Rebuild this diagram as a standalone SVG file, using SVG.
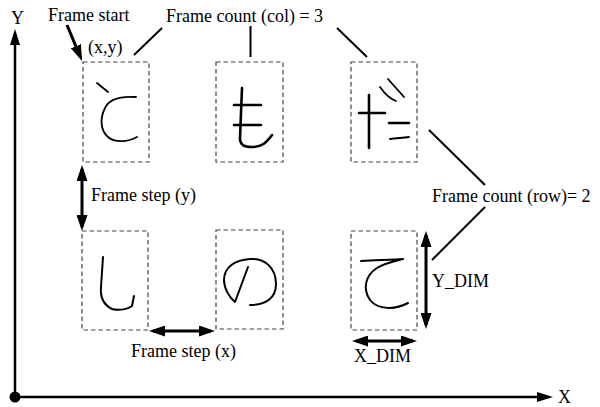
<svg xmlns="http://www.w3.org/2000/svg" width="600" height="407" viewBox="0 0 600 407">
<style>
  text { font-family: "Liberation Serif", "Times New Roman", serif; font-size: 18px; fill: #000; }
  .frame { fill: none; stroke: #444; stroke-width: 1.2; stroke-dasharray: 4.5 3; }
  .ink { fill: none; stroke: #000; stroke-linecap: round; stroke-linejoin: round; }
  .arr { stroke: #000; stroke-width: 3; fill: none; }
  .ax { stroke: #000; stroke-width: 2.5; fill: none; }
  .lead { stroke: #000; stroke-width: 2; fill: none; }
</style>
<defs>
  <marker id="ah" markerUnits="userSpaceOnUse" markerWidth="16" markerHeight="11" refX="12" refY="5.5" orient="auto-start-reverse" viewBox="0 0 16 11">
    <path d="M0,0 L16,5.5 L0,11 z" fill="#000"/>
  </marker>
  <marker id="axh" markerUnits="userSpaceOnUse" markerWidth="16" markerHeight="10" refX="12" refY="5" orient="auto-start-reverse" viewBox="0 0 16 10">
    <path d="M0,0 L16,5 L0,10 z" fill="#000"/>
  </marker>
</defs>

<g id="axes">
  <line class="ax" x1="15" y1="397" x2="15" y2="33" marker-end="url(#axh)"/>
  <line class="ax" x1="15" y1="397" x2="549" y2="397" marker-end="url(#axh)"/>
  <circle cx="15" cy="397" r="5.5" fill="#000"/>
  <text x="11" y="24">Y</text>
  <text x="558" y="403">X</text>
</g>

<g id="frame-1-1">
  <rect class="frame" x="83" y="62" width="66" height="100"/>
  <path class="ink" stroke-width="1.8" d="M97,83 L108,92 M136,97 C121,96 109,99 105,108 C100,118 100,130 108,137 C115,143 128,142 137,137"/>
</g>
<g id="frame-1-2">
  <rect class="frame" x="216" y="62" width="67" height="100"/>
  <path class="ink" stroke-width="2.6" d="M242,88 L240,138 C240,145 244,147 252,147 C262,147 266,143 272,135 M234,105 L261,105 M234,125 L261,125"/>
</g>
<g id="frame-1-3">
  <rect class="frame" x="351" y="62" width="66" height="100"/>
  <path class="ink" stroke-width="2.6" d="M369,95 L369,148 M359,113 L385,113 M389,123 L409,123"/>
  <path class="ink" stroke-width="1.8" d="M380,87 C385,94 390,99 396,101 M388,79 L404,97 M390,139 C396,138 403,138 409,137"/>
</g>
<g id="frame-2-1">
  <rect class="frame" x="82" y="231" width="66" height="99"/>
  <path class="ink" stroke-width="2" d="M103,257 L101,287 C100,298 104,305 112,309 C120,311 128,309 132,306 L134,296"/>
</g>
<g id="frame-2-2">
  <rect class="frame" x="216" y="230" width="67" height="99"/>
  <path class="ink" stroke-width="2" d="M248,267 L235,302 C230,298 224,289 224,280 C224,267 235,260 250,259 C265,258 276,268 276,284 C276,298 266,305 250,305"/>
</g>
<g id="frame-2-3">
  <rect class="frame" x="351" y="231" width="66" height="99"/>
  <path class="ink" stroke-width="2" d="M361,261 C375,260 392,260 403,259 C395,261 385,263 377,268 C366,275 362,288 370,300 C378,310 395,310 408,303"/>
</g>

<g id="labels">
  <text x="48" y="21">Frame start</text>
  <text x="88" y="53">(x,y)</text>
  <text x="166" y="22">Frame count (col) = 3</text>
  <text x="91" y="201">Frame step (y)</text>
  <text x="131" y="357">Frame step (x)</text>
  <text x="432" y="202" font-size="18.5">Frame count (row)= 2</text>
  <text x="432" y="287">Y_DIM</text>
  <text x="354" y="362">X_DIM</text>
</g>

<g id="connectors">
  <line class="arr" x1="67" y1="25" x2="80.5" y2="57.3" marker-end="url(#ah)"/>
  <line class="lead" x1="134" y1="55" x2="162" y2="28"/>
  <line class="lead" x1="250.5" y1="26" x2="250.5" y2="57" stroke-width="2.5"/>
  <line class="lead" x1="337" y1="28" x2="367" y2="57"/>
  <line class="lead" x1="429" y1="130" x2="485" y2="185"/>
  <line class="lead" x1="485" y1="207" x2="432" y2="260"/>
  <line class="arr" x1="82" y1="169" x2="82" y2="227" marker-start="url(#ah)" marker-end="url(#ah)"/>
  <line class="arr" x1="153" y1="331" x2="211" y2="331" marker-start="url(#ah)" marker-end="url(#ah)"/>
  <line class="arr" x1="426" y1="235" x2="426" y2="325" marker-start="url(#ah)" marker-end="url(#ah)"/>
  <line class="arr" x1="356" y1="341" x2="413" y2="341" marker-start="url(#ah)" marker-end="url(#ah)"/>
</g>
</svg>
